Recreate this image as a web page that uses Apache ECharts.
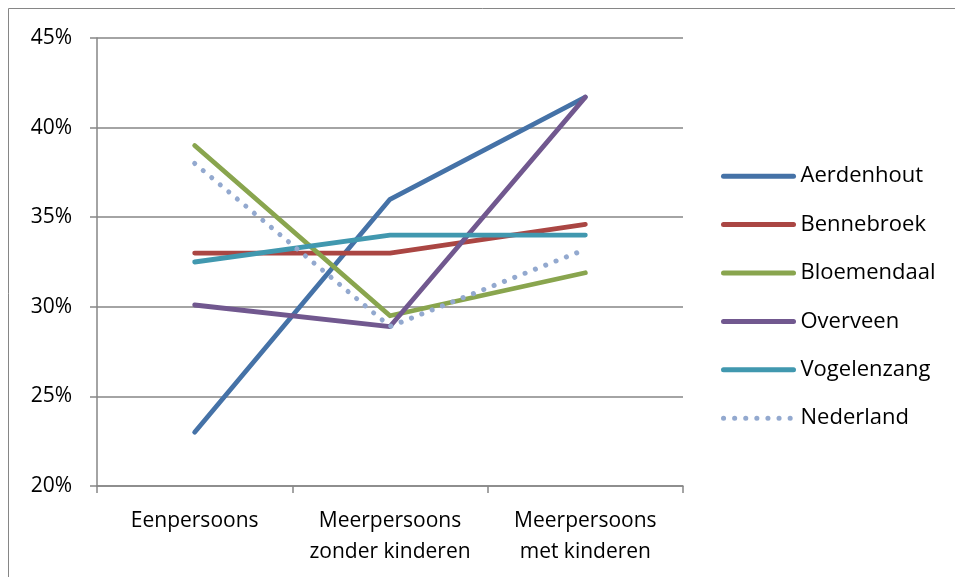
<!DOCTYPE html>
<html>
<head>
<meta charset="utf-8">
<script src="https://cdn.jsdelivr.net/npm/echarts@6/dist/echarts.min.js"></script>
<style>
  html, body { margin: 0; padding: 0; background: #fff; }
  #chart { width: 955px; height: 577px; }
</style>
</head>
<body>
<div id="chart"></div>
<script>
// categories on the x axis
const categories = ['Eenpersoons', 'Meerpersoons\nzonder kinderen', 'Meerpersoons\nmet kinderen'];
// share of households (%) per place
const aerdenhout = [23.0, 36.0, 41.7];
const bennebroek = [33.0, 33.0, 34.6];
const bloemendaal = [39.0, 29.5, 31.9];
const overveen = [30.1, 28.9, 41.7];
const vogelenzang = [32.5, 34.0, 34.0];
const nederland = [38.0, 28.9, 33.2];
// y axis range
const yTicks = [20, 25, 30, 35, 40, 45];

var chartDom = document.getElementById('chart');
var myChart = echarts.init(chartDom);
var font = 'Open Sans';

function line(name, data, color, dotted) {
    return {
        name: name,
        type: 'line',
        data: data,
        symbol: 'none',
        showSymbol: false,
        animation: false,
        lineStyle: dotted
            ? { color: color, width: 5, type: [0.1, 11], cap: 'round' }
            : { color: color, width: 4.8, cap: 'round', join: 'round' },
        itemStyle: { color: color }
    };
}

var option = {
    animation: false,
    textStyle: { fontFamily: font },
    graphic: [{
        type: 'rect',
        shape: { x: 8.5, y: 8.5, width: 1200, height: 1200 },
        style: { fill: 'none', stroke: '#868686', lineWidth: 1 },
        silent: true
    }],
    grid: { left: 97, right: 272, top: 38, bottom: 91 },
    legend: {
        orient: 'vertical',
        left: 716,
        top: 160,
        itemWidth: 70,
        itemHeight: 28,
        itemGap: 26,
        itemStyle: { opacity: 0 },
        lineStyle: { width: 5, cap: 'round' },
        textStyle: { fontFamily: font, fontSize: 22, color: '#000', padding: [0, 0, 0, 2] },
        data: ['Aerdenhout', 'Bennebroek', 'Bloemendaal', 'Overveen', 'Vogelenzang', 'Nederland']
    },
    xAxis: {
        type: 'category',
        data: categories,
        boundaryGap: true,
        axisLine: { lineStyle: { color: '#868686', width: 1.5 } },
        axisTick: { show: true, length: 7, lineStyle: { color: '#868686', width: 1.5 } },
        axisLabel: { color: '#000', fontSize: 21, fontFamily: font, lineHeight: 31, margin: 20, interval: 0 }
    },
    yAxis: {
        type: 'value',
        min: yTicks[0],
        max: yTicks[yTicks.length - 1],
        interval: 5,
        axisLine: { show: true, lineStyle: { color: '#868686', width: 1.5 } },
        axisTick: { show: true, length: 7, lineStyle: { color: '#868686', width: 1.5 } },
        splitLine: { lineStyle: { color: '#868686', width: 1.5 } },
        axisLabel: { color: '#000', fontSize: 21, fontFamily: font, margin: 25, formatter: '{value}%' }
    },
    series: [
        line('Aerdenhout', aerdenhout, '#4572A7'),
        line('Bennebroek', bennebroek, '#AA4643'),
        line('Bloemendaal', bloemendaal, '#89A54E'),
        line('Overveen', overveen, '#71588F'),
        line('Vogelenzang', vogelenzang, '#4198AF'),
        line('Nederland', nederland, '#93A9CF', true)
    ]
};

option && myChart.setOption(option);
</script>
</body>
</html>
